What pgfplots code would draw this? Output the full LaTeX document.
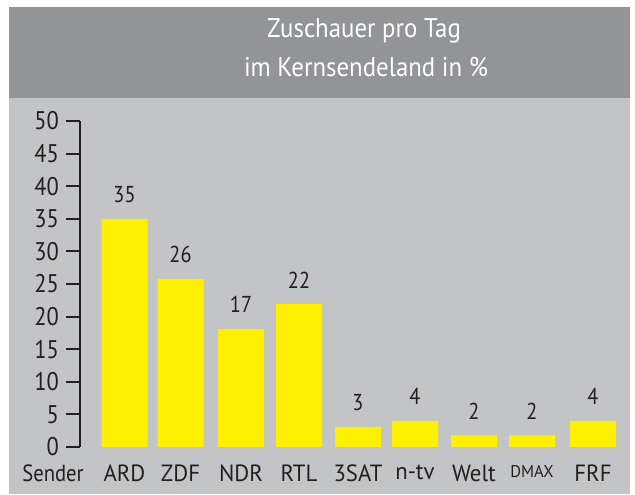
\documentclass[border=0pt]{standalone}
\usepackage{fontspec}
\setmainfont{PT Sans}[FakeStretch=0.88]
\newfontfamily\titlefont{PT Sans}[FakeStretch=0.92]
\newfontfamily\catfont{PT Sans}[FakeStretch=0.97]
\usepackage{pgfplots}
\pgfplotsset{compat=1.18}
\definecolor{band}{RGB}{147,148,152}
\definecolor{body}{RGB}{195,196,198}
\definecolor{baryellow}{RGB}{255,240,0}
\definecolor{ink}{RGB}{35,31,32}
\begin{document}
\begin{tikzpicture}[x=1pt,y=1pt]
\fill[white] (0,0) rectangle (635,495);
\fill[body] (9,1) rectangle (630,397);
\fill[band] (9,397) rectangle (630,488);
\node[white, font=\titlefont\fontsize{27}{32}\selectfont, anchor=base, inner sep=0pt] at (364,457) {Zuschauer pro Tag};
\node[white, font=\titlefont\fontsize{27}{32}\selectfont, anchor=base, inner sep=0pt] at (366,418) {im Kernsendeland in \%};
\node[ink, font=\fontsize{23.5}{28}\selectfont, anchor=north, inner sep=0pt] at (53,30) {Sender};
\begin{axis}[
  at={(80pt,48pt)}, anchor=south west,
  scale only axis, width=550pt, height=326pt,
  xmin=80, xmax=630, ymin=0, ymax=50,
  clip=false,
  axis lines*=left,
  x axis line style={draw=none},
  y axis line style={line width=2pt, ink},
  xtick={124.5,180.5,241,299,358,415,474,532,593},
  xticklabels={ARD,ZDF,NDR,RTL,3SAT,n-tv,Welt,{\fontsize{17}{20}\selectfont DMAX},FRF},
  xtick style={draw=none},
  xtick align=inside,
  x tick label style={font=\catfont\fontsize{23.5}{28}\selectfont, text=ink, anchor=north, inner sep=0pt, yshift=-18pt},
  ytick={0,5,...,50},
  ytick align=outside,
  major tick length=14pt,
  ytick style={line width=2pt, ink},
  y tick label style={font=\fontsize{25.5}{30}\selectfont, text=ink, inner sep=0pt, xshift=-7pt},
  /pgf/number format/assume math mode=true,
  nodes near coords,
  point meta=explicit symbolic,
  every node near coord/.append style={font=\fontsize{23}{28}\selectfont, text=ink, anchor=south, inner sep=0pt, yshift=16pt},
]
\addplot[ybar, bar width=46, fill=baryellow, draw=none] table[x=x, y=h, meta=label] {
x h label
124.5 35 35
180.5 25.8 26
241 18.1 17
299 21.9 22
358 3.1 3
415 4 4
474 1.8 2
532 1.8 2
593 4 4
};
\end{axis}
\end{tikzpicture}
\end{document}
